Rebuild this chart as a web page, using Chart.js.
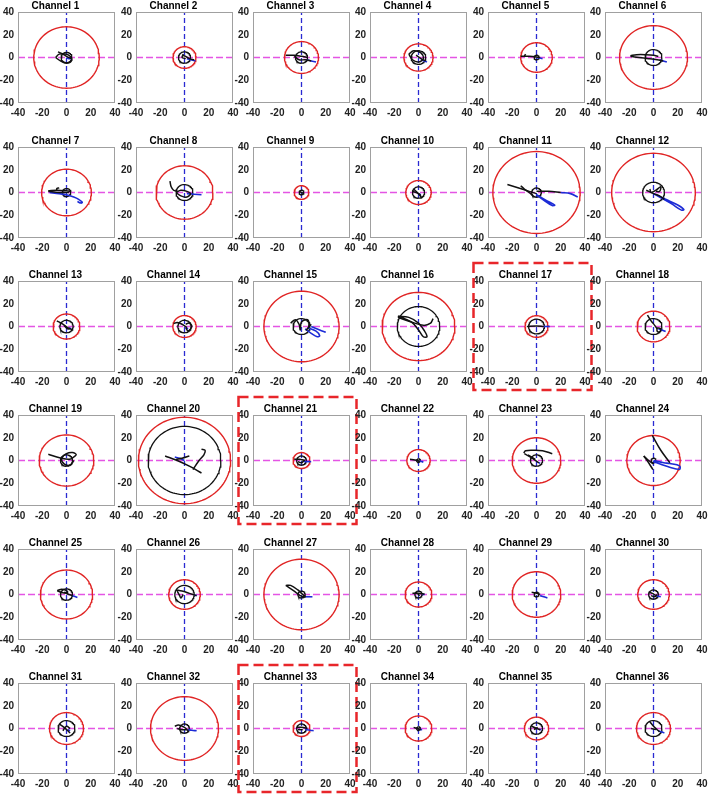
<!DOCTYPE html>
<html lang="en">
<head>
<meta charset="UTF-8">
<title>Channel trajectories</title>
<script src="https://cdn.jsdelivr.net/npm/chart.js@4.4.0/dist/chart.umd.min.js"></script>
<style>
  html, body { margin: 0; padding: 0; background: #fff; }
  #wrap { position: relative; width: 708px; height: 794px; overflow: hidden; }
  #wrap canvas { position: absolute; }
</style>
</head>
<body>
<div id="wrap"></div>
<script>
// ---- data ----
var channels = [];
for (var c = 1; c <= 36; c++) channels.push("Channel " + c);

var axisTicks = [-40, -20, 0, 20, 40];
var highlighted = [17, 21, 33];

// outer (red) and inner (black) circle radii per channel
var redRadius = [27, 9.5, 14, 12, 13, 28, 20.5, 23.5, 6, 10.5, 36, 34.5,
                 11, 9.6, 31, 30, 9.5, 13.5, 22.5, 38, 7, 9.6, 20, 22,
                 21.5, 13, 31, 11, 20, 13, 14, 28, 7, 11, 10, 14];
var blackRadius = [4.5, 5, 5, 6, 2, 7, 3.5, 7, 2, 5, 4, 9,
                   5.5, 5.5, 7, 17.5, 6.5, 7, 5, 30, 4, 1.5, 5, 2,
                   5, 8, 3, 3, 2, 4, 7, 4, 4, 1.5, 5, 7];

// black trajectories (each channel: list of polylines, points [x, y])
var blackPaths = [
  [[[-9,0],[-6,3],[-1,3],[3,1],[4,-3],[0,-5],[-5,-3],[-9,0]], [[-7,5],[-3,3],[0,1],[4,-1]]],
  [[[-2,2],[1,1],[4,-1],[8,-2]], [[-1,3],[-2,0],[1,-1]]],
  [[[-13,2],[-6,2],[0,1],[5,0]], [[-6,1],[-2,-2],[3,-2],[8,-3]]],
  [[[-8,3],[-4,6],[2,4],[4,-1],[0,-4],[-5,-2],[-8,3]], [[-2,2],[2,-1],[6,-3]]],
  [[[-13,1],[-6,1],[0,0.5],[3,0]], [[-10,1],[-9,3]]],
  [[[-19,1.5],[-14,2.5],[-6,2.5],[0,2],[4,1]], [[-19,1],[-12,0],[-4,-1],[3,-2],[8,-3]]],
  [[[-15,1.5],[-8,2],[0,1.5],[4,1]], [[-15,1],[-6,0],[2,0]], [[-8,2],[-8,3.5],[-6,4]]],
  [[[-12,10],[-11,5],[-9,2],[-6,1]], [[-7,0],[-3,2],[2,1],[5,-1],[2,-4],[-3,-3],[-7,0]]],
  [[[-2,1],[0,0],[2,-1]]],
  [[[-4,3],[-1,0],[3,-5]], [[-5,1],[0,-1],[2,-3]]],
  [[[-24,7],[-12,3],[0,-1]], [[-13,6],[-10,3],[-6,0],[-2,-4]], [[0,1],[10,1],[20,0]]],
  [[[-3,3],[-2,0],[2,2],[6,5],[5,1],[2,1]], [[-6,2],[0,-1],[5,-3],[9,-6]]],
  [[[-8,5],[-3,2],[1,-1],[5,-3]], [[-2,1],[1,-2],[3,-2]]],
  [[[-9,2.5],[-6,3.5],[-2,2],[2,-1]], [[1,2],[4,3],[6,0],[3,-4],[1,-1]]],
  [[[-9,3],[-5,6],[-2,2],[-1,-3],[0,4],[5,6],[6,0],[4,-3],[8,2]]],
  [[[-17,9],[-8,8],[0,3],[5,-4],[7,-9],[4,-9],[0,-3],[-6,4],[-17,9]], [[-17,8],[-6,4],[4,1],[10,3],[12,7]]],
  [[[-8,0],[0,0.5],[6,0]]],
  [[[-5,10],[-2,5],[1,1],[3,-2]], [[3,-1],[6,-2],[5,-5],[3,-4],[3,-1]]],
  [[[-15,5.5],[-8,3],[-2,1.5],[3,1]], [[3,1],[8,5],[5,7],[0,6],[-4,2],[-2,-3],[3,-4],[6,0]]],
  [[[-16,4],[-6,0],[4,-5],[14,-11]], [[-7,1],[-2,2],[4,4]], [[7,-8],[12,0],[16,5],[17,9],[14,10]]],
  [[[-6,1],[-2,1],[3,0]], [[-3,-1],[0,-2],[2,0]]],
  [[[-7,1],[-3,0.5],[1,-0.5]]],
  [[[-10.5,6.5],[-9,8.6],[-2,9],[5,8.6],[13,6]], [[-10,6],[-5,3],[2,-2]], [[-7,5],[-1,1]]],
  [[[-1,22],[6,9],[13.5,-2]], [[-8,4],[-4,0],[0,-3]], [[-0.5,-8],[-4,-2],[-8,4]]],
  [[[-7.7,3.3],[-5,4.5],[-1,4],[1,2],[-3,1.5],[-7.7,3.3]], [[-2,2],[2,0],[5,-1]]],
  [[[-7,4],[-2,3],[4,1],[10,-1]], [[-6,3],[-4,-1],[-3,-3],[-1,0]]],
  [[[-13,8],[-9,8],[-3,4],[1,0],[3,-2],[-1,-1],[-6,3],[-13,8]]],
  [[[-5,1],[0,1],[5,0.5]], [[-2,2],[1,-1]]],
  [[[-4,2],[-1,1.5],[3,0]]],
  [[[-4,2],[-1,1],[2,-1]], [[-2,-1],[1,-2],[3,0]]],
  [[[-6,4],[-2,1],[3,-4]], [[-3,-2],[0,2],[3,0]]],
  [[[-8,2],[-5,3],[0,1],[3,-2]], [[-6,0],[-2,-1],[2,-1]]],
  [[[-4,1],[0,1],[5,0]], [[-3,-1],[1,-1]]],
  [[[-4,1],[-1,0],[2,-1]]],
  [[[-4,2],[0,0],[3,-1]], [[-2,-1],[1,1]]],
  [[[-3,6],[0,2],[5,-3]], [[-2,0],[2,-1]]]
];

// blue trajectories
var bluePaths = [
  [[[0,0],[2,-1],[4,-1]]],
  [[[2,-1],[5,-2],[9,-3]]],
  [[[4,-2],[8,-3],[12,-4]]],
  [[[2,-2],[5,-3],[7,-4]]],
  [[[0,0],[3,-0.5],[5,-1]]],
  [[[5,-2],[8,-3],[11,-4]]],
  [[[-14,0],[-6,-1],[0,-2],[6,-4],[10,-6],[13,-8.6],[12,-9.3],[9,-8]]],
  [[[2,-1],[8,-1.5],[14,-2]]],
  [[[0,0],[1,-0.5]]],
  [[[0,-1],[2,-2]]],
  [[[20,0],[28,-1],[34,-4]], [[0,-2],[8,-7],[15,-11],[13,-11.5],[5,-6],[0,-2]]],
  [[[0,-1],[10,-6],[20,-11],[25,-15],[23,-15.5],[15,-10],[5,-4],[0,-1]]],
  [[[2,-1],[4,-2]]],
  [[[1,-1],[3,-2]]],
  [[[5,-1],[12,-4],[15,-8],[13,-9],[8,-6],[3,-2]], [[8,0],[15,-3],[20,-5]]],
  [],
  [[[6,0],[9,0],[11,0]]],
  [[[4,-2],[7,-3],[10,-4.4]]],
  [],
  [[[0,0],[-4,2],[-8,3]]],
  [[[2,-1],[5,-1],[8,-1]]],
  [[[1,-0.5],[3,-1],[4,-1.5]]],
  [[[2,-2],[3,-2.5]]],
  [[[0,0],[8.5,-2],[13.5,-2.7],[21.5,-4.7],[21.5,-7.7],[14,-6.2],[6,-3.3],[0,-1]]],
  [[[5,-1],[9,-2.7]]],
  [[[8,-0.5],[10,-1]]],
  [[[3,-2],[9,-2]]],
  [[[3,0],[5,0]]],
  [[[3,-1],[6,-2],[9,-3]]],
  [[[2,-1],[4,-1.5],[6,-2]]],
  [[[1,-1],[3,-2]]],
  [[[3,-1],[6,-1.5],[10,-2]]],
  [[[3,-1],[7,-1.5],[10,-2]]],
  [[[1,-1],[3,-1]]],
  [[[2,-1],[4,-1]]],
  [[[4,-2],[7,-3],[9,-4]]]
];

// ---- layout of the 6 x 6 grid (pixel positions of the plot boxes) ----
var colLeft = [18, 135.5, 253, 370.3, 487.6, 605];
var rowTop = [12, 147, 280.5, 415, 549, 683];
var plotW = 97, plotH = 91;
var canvasW = 130, canvasH = 134, offX = 22, offY = 20;

var FONT = "'Liberation Sans', Arial, sans-serif";

function toPoints(list) {
  return list.map(function (p) { return { x: p[0], y: p[1] }; });
}

function circle(r) {
  var pts = [];
  for (var k = 0; k <= 96; k++) {
    var a = (k / 96) * 2 * Math.PI;
    pts.push({ x: r * Math.cos(a), y: r * Math.sin(a) });
  }
  return pts;
}

// grey box round the plot area and the red dashed highlight frame
var framePlugin = {
  id: "frame",
  afterDraw: function (chart) {
    var a = chart.chartArea, ctx = chart.ctx;
    ctx.save();
    ctx.strokeStyle = "#a0a0a0";
    ctx.lineWidth = 1;
    ctx.strokeRect(Math.round(a.left) + 0.5, Math.round(a.top) + 0.5,
                   Math.round(a.right - a.left) - 1, Math.round(a.bottom - a.top) - 1);
    if (chart.options.highlight) {
      ctx.strokeStyle = "#e8262a";
      ctx.lineWidth = 2.5;
      ctx.setLineDash([10, 5]);
      ctx.strokeRect(a.left - 14.5, a.top - 18, 118, 127);
    }
    ctx.restore();
  }
};

var wrap = document.getElementById("wrap");

channels.forEach(function (name, i) {
  var col = i % 6, row = Math.floor(i / 6);
  var cv = document.createElement("canvas");
  cv.width = canvasW;
  cv.height = canvasH;
  cv.style.left = (colLeft[col] - offX) + "px";
  cv.style.top = (rowTop[row] - offY) + "px";
  cv.style.width = canvasW + "px";
  cv.style.height = canvasH + "px";
  wrap.appendChild(cv);

  var datasets = [];
  blackPaths[i].forEach(function (path) {
    datasets.push({ data: toPoints(path), borderColor: "#111", borderWidth: 1.5, tension: 0.35 });
  });
  bluePaths[i].forEach(function (path) {
    datasets.push({ data: toPoints(path), borderColor: "#1c2bd6", borderWidth: 1.6, tension: 0.35 });
  });
  datasets.push({ data: circle(blackRadius[i]), borderColor: "#111", borderWidth: 1.3 });
  datasets.push({ data: circle(redRadius[i]), borderColor: "#e02424", borderWidth: 1.4 });
  datasets.push({ data: [{ x: -40, y: 0 }, { x: 40, y: 0 }], borderColor: "#e455e4", borderWidth: 1.6, borderDash: [7, 3] });
  datasets.push({ data: [{ x: 0, y: -40 }, { x: 0, y: 40 }], borderColor: "#2a2ad2", borderWidth: 1.3, borderDash: [5, 3] });

  var tickFont = { family: FONT, size: 10, weight: "bold" };

  new Chart(cv, {
    type: "scatter",
    data: { datasets: datasets },
    plugins: [framePlugin],
    options: {
      responsive: false,
      animation: false,
      highlight: highlighted.indexOf(i + 1) >= 0,
      layout: { padding: { left: 0, top: 0, right: canvasW - offX - plotW, bottom: canvasH - offY - plotH - 16 } },
      elements: { point: { radius: 0 }, line: { fill: false } },
      datasets: { scatter: { showLine: true } },
      plugins: {
        legend: { display: false },
        tooltip: { enabled: false },
        title: {
          display: true,
          text: name,
          color: "#000",
          font: { family: FONT, size: 10, weight: "bold", lineHeight: 1.2 },
          padding: { top: 8, bottom: 0 }
        }
      },
      scales: {
        x: {
          type: "linear", min: -40, max: 40,
          afterBuildTicks: function (s) { s.ticks = axisTicks.map(function (v) { return { value: v }; }); },
          afterFit: function (s) { s.height = 16; },
          grid: { display: false, drawTicks: false },
          border: { display: false },
          ticks: { color: "#222", font: tickFont, padding: 4, maxRotation: 0, autoSkip: false }
        },
        y: {
          type: "linear", min: -40, max: 40,
          afterBuildTicks: function (s) { s.ticks = axisTicks.map(function (v) { return { value: v }; }); },
          afterFit: function (s) { s.width = offX; },
          grid: { display: false, drawTicks: false },
          border: { display: false },
          ticks: { color: "#222", font: tickFont, padding: 4, autoSkip: false }
        }
      }
    }
  });
});
</script>
</body>
</html>
